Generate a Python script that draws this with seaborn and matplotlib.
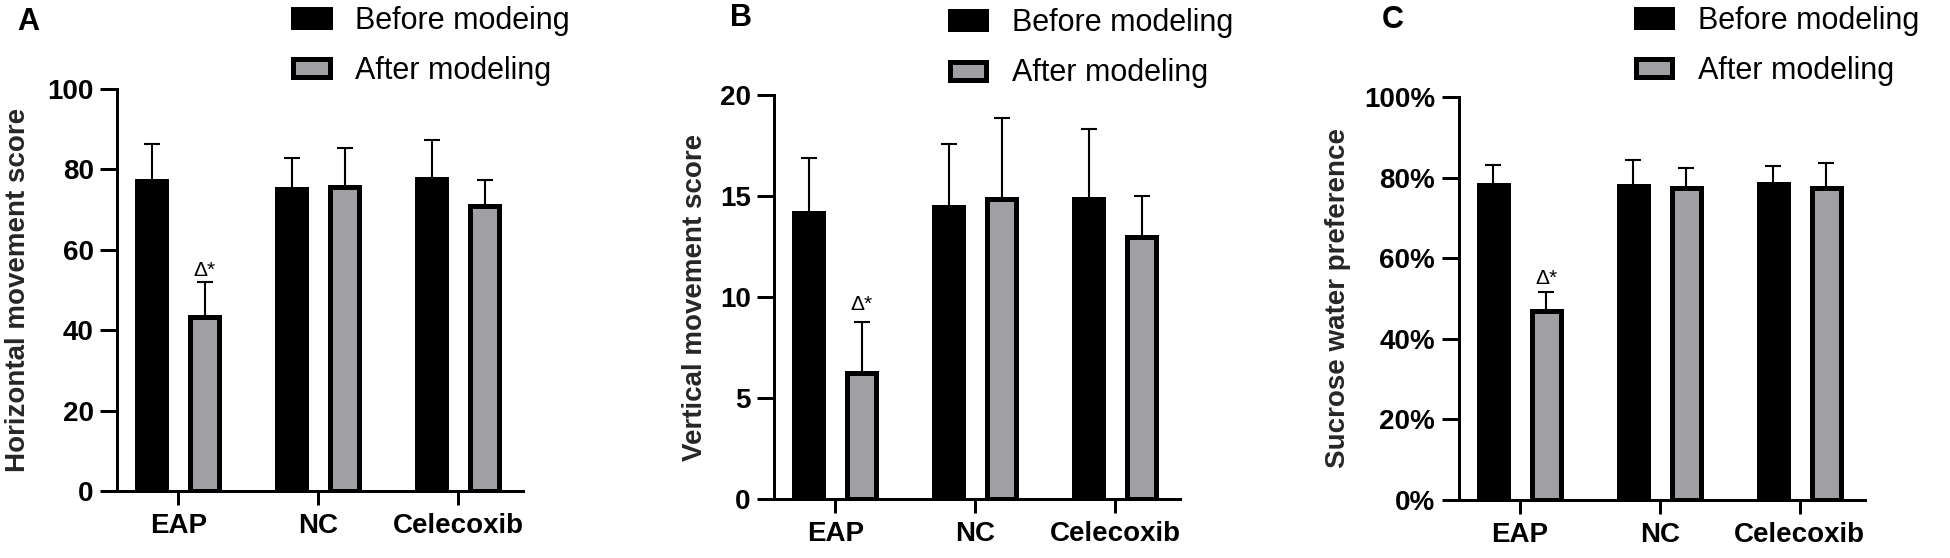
import matplotlib
matplotlib.use("Agg")
import matplotlib.pyplot as plt
from matplotlib.patches import Patch
import seaborn as sns
import pandas as pd

# ---------------- data ----------------
groups = ["EAP", "NC", "Celecoxib"]
phases = ["Before", "After"]

A_before = [77.0, 75.0, 77.6]
A_before_sd = [9.2, 7.9, 9.65]
A_after = [43.3, 75.7, 70.9]
A_after_sd = [8.6, 9.6, 6.35]

B_before = [14.14, 14.45, 14.83]
B_before_sd = [2.75, 3.12, 3.47]
B_after = [6.22, 14.83, 12.95]
B_after_sd = [2.53, 4.02, 2.03]

C_before = [78.2, 78.0, 78.4]
C_before_sd = [5.0, 6.4, 4.6]
C_after = [46.8, 77.4, 77.5]
C_after_sd = [4.9, 5.0, 6.0]

A_legend = ["Before modeing", "After modeling"]
B_legend = ["Before modeling", "After modeling"]
C_legend = ["Before modeling", "After modeling"]

A_ylabel = "Horizontal movement score"
B_ylabel = "Vertical movement score"
C_ylabel = "Sucrose water preference"

A_yticks = [0, 20, 40, 60, 80, 100]
A_yticklabels = ["0", "20", "40", "60", "80", "100"]
B_yticks = [0, 5, 10, 15, 20]
B_yticklabels = ["0", "5", "10", "15", "20"]
C_yticks = [0, 20, 40, 60, 80, 100]
C_yticklabels = ["0%", "20%", "40%", "60%", "80%", "100%"]

sig_label = "Δ*"
panel_letters = ["A", "B", "C"]

# ---------------- style ----------------
sns.set_style("ticks")
plt.rcParams["font.family"] = ["Liberation Sans", "DejaVu Sans"]
plt.rcParams["text.color"] = "black"

BLACK = "#000000"
GRAY = "#a0a0a4"
LW = 3.6          # bar edge width (pt)
SPINE_W = 2.16

fig = plt.figure(figsize=(19.5, 5.58), dpi=100)
W, H = 1950.0, 558.0


def axes_rect(left, right, bottom, top):
    return [left / W, (H - bottom) / H, (right - left) / W, (bottom - top) / H]


panels = [
    dict(rect=axes_rect(117, 523, 491, 89), before=A_before, bsd=A_before_sd,
         after=A_after, asd=A_after_sd, legend=A_legend, ylabel=A_ylabel,
         yticks=A_yticks, yticklabels=A_yticklabels, ylim=(0, 100),
         labelx=-0.2118, leg_xy=(293, 5.5), sig_off=4.8,
         letter_xy=(17, 30)),
    dict(rect=axes_rect(774, 1180, 499, 95), before=B_before, bsd=B_before_sd,
         after=B_after, asd=B_after_sd, legend=B_legend, ylabel=B_ylabel,
         yticks=B_yticks, yticklabels=B_yticklabels, ylim=(0, 20),
         labelx=-0.1626, leg_xy=(949.5, 8), sig_off=8.6,
         letter_xy=(730, 26)),
    dict(rect=axes_rect(1458.5, 1864.5, 500, 97), before=C_before, bsd=C_before_sd,
         after=C_after, asd=C_after_sd, legend=C_legend, ylabel=C_ylabel,
         yticks=C_yticks, yticklabels=C_yticklabels, ylim=(0, 100),
         labelx=-0.2648, leg_xy=(1635.5, 5.7), sig_off=5.4,
         letter_xy=(1382, 28)),
]

for letter, p in zip(panel_letters, panels):
    ax = fig.add_axes(p["rect"])
    df = pd.DataFrame({
        "group": groups * 2,
        "phase": [phases[0]] * 3 + [phases[1]] * 3,
        "value": list(p["before"]) + list(p["after"]),
    })
    sns.barplot(data=df, x="group", y="value", hue="phase", order=groups,
                hue_order=phases, palette=[BLACK, GRAY], saturation=1,
                width=0.76, gap=0.455, edgecolor=BLACK, linewidth=LW,
                errorbar=None, legend=False, ax=ax, zorder=2)

    # upper-only error bars
    for cont, sds in zip(ax.containers, [p["bsd"], p["asd"]]):
        for bar, sd in zip(cont, sds):
            x = bar.get_x() + bar.get_width() / 2
            h = bar.get_height()
            ax.errorbar(x, h, yerr=[[0], [sd]], color=BLACK, lw=1.5,
                        capsize=6, capthick=1.5, zorder=1)

    # significance mark above EAP after-modeling bar
    bar = ax.containers[1][0]
    x = bar.get_x() + bar.get_width() / 2
    top = bar.get_height() + p["asd"][0]
    ax.annotate(sig_label, xy=(x, top), xytext=(0, p["sig_off"]),
                textcoords="offset points", ha="center", va="baseline",
                fontsize=15)

    ax.set_xlim(-0.438, 2.462)
    ax.set_ylim(*p["ylim"])
    ax.set_yticks(p["yticks"])
    ax.set_yticklabels(p["yticklabels"], fontsize=20, fontweight="bold")
    ax.set_xticks(range(len(groups)))
    ax.set_xticklabels(groups, fontsize=20, fontweight="bold")
    ax.set_xlabel("")
    ax.set_ylabel(p["ylabel"], fontsize=20, fontweight="bold")
    ax.yaxis.set_label_coords(p["labelx"], 0.5)

    sns.despine(ax=ax)
    for s in ["left", "bottom"]:
        ax.spines[s].set_linewidth(SPINE_W)
        ax.spines[s].set_color(BLACK)
        ax.spines[s].set_capstyle("projecting")
    ax.tick_params(axis="y", length=12, width=SPINE_W, pad=4.8, colors=BLACK)
    ax.tick_params(axis="x", length=10, width=SPINE_W, pad=6, colors=BLACK)
    ax.set_facecolor("white")

    handles = [Patch(facecolor=BLACK, edgecolor=BLACK, linewidth=LW),
               Patch(facecolor=GRAY, edgecolor=BLACK, linewidth=LW)]
    lx, ly = p["leg_xy"]
    fig.legend(handles, p["legend"], loc="upper left",
               bbox_to_anchor=(lx / W, 1 - ly / H), frameon=False,
               fontsize=22, handlelength=1.21, handleheight=0.52,
               handletextpad=0.82, labelspacing=0.67, borderpad=0,
               borderaxespad=0)

    lxp, lyp = p["letter_xy"]
    fig.text(lxp / W, 1 - lyp / H, letter, fontsize=22, fontweight="bold",
             ha="left", va="baseline")

fig.savefig("out.png", dpi=100, facecolor="white")
